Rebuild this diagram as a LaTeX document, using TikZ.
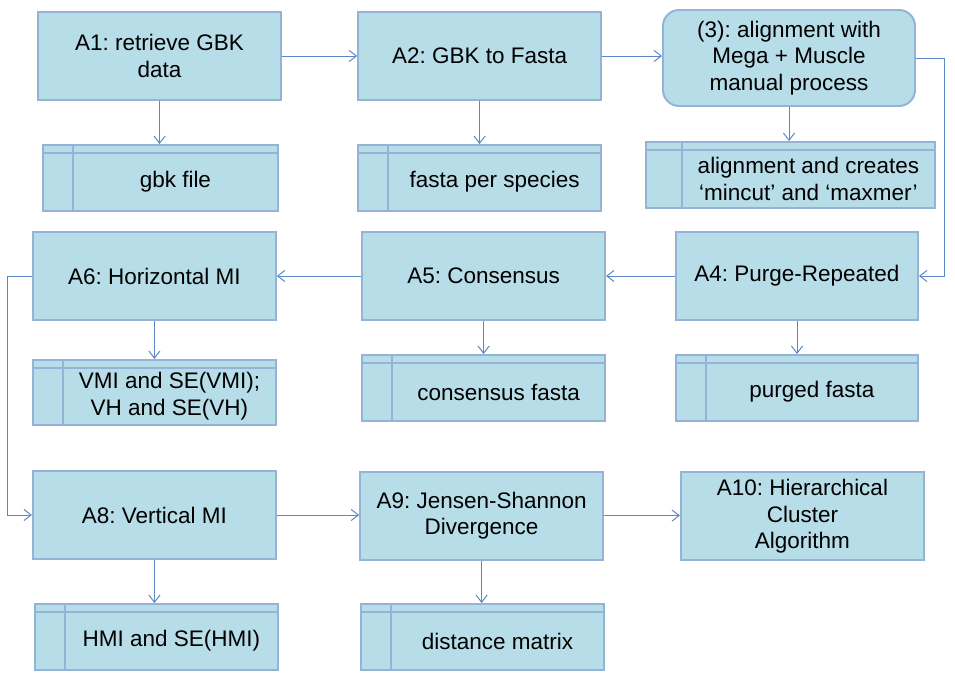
\documentclass[tikz,border=0pt]{standalone}
\usepackage{fontspec}
\setmainfont{Liberation Sans}
\frenchspacing
\usetikzlibrary{
    arrows.meta,
    positioning
}
\definecolor{boxfill}{HTML}{B7DDE8}
\definecolor{boxline}{HTML}{95B3D7}
\definecolor{arrowline}{HTML}{5B87C5}
\tikzset{
    % Process step style
    process/.style={
        rectangle,
        minimum width=6.075cm,
        minimum height=2.2cm,
        align=center,
        inner sep=2pt,
        font=\fontsize{16}{19}\selectfont,
        draw=boxline,
        fill=boxfill,
        line width=1.4pt
    },
    % Data store style (argument: offset of the left divider)
    datastore/.style={
        rectangle,
        minimum width=6.075cm,
        minimum height=1.65cm,
        draw=boxline,
        fill=boxfill,
        line width=1.4pt,
        path picture={
            \draw[boxline, line width=1.4pt] ([yshift=-0.2cm]path picture bounding box.north west) -- ([yshift=-0.2cm]path picture bounding box.north east);
            \draw[boxline, line width=1.4pt] ([xshift=#1]path picture bounding box.north west) -- ([xshift=#1]path picture bounding box.south west);
        }
    },
    datastore/.default=0.75cm,
    % Text inside a data store
    datatext/.style={
        font=\fontsize{16}{19}\selectfont,
        align=center,
        inner sep=1pt,
        xshift=#1,
        yshift=-0.1cm
    },
    datatext/.default=0.375cm,
    % Arrow style
    flow/.style={
        -{Straight Barb[length=1.8mm, width=2.8mm]},
        line width=0.7pt,
        draw=arrowline
    }
}

\begin{document}
\begin{tikzpicture}
        \useasboundingbox (0,0) rectangle (23.875,17);

        % First row
        \node[process] (a1) at (3.99, 15.6) {A1: retrieve GBK\\data};
        \node[process] (a2) at (11.99, 15.6) {A2: GBK to Fasta};
        \node[process, rounded corners=0.4cm, minimum width=6.3cm, minimum height=2.4cm] (a3) at (19.725, 15.55) {(3): alignment with\\Mega + Muscle\\manual process};

        \node[datastore, minimum width=5.875cm, label={[datatext]center:gbk file}] (gbk) at (4.01, 12.55) {};
        \node[datastore, label={[datatext]center:fasta per species}] (fasta) at (11.99, 12.55) {};
        \node[datastore=0.9cm, minimum width=7.225cm, label={[datatext=0.45cm]center:alignment and creates\\‘mincut’ and ‘maxmer’}] (aln) at (19.76, 12.625) {};

        % Second row
        \node[process] (a6) at (3.86, 10.1) {A6: Horizontal MI};
        \node[process] (a5) at (12.09, 10.1) {A5: Consensus};
        \node[process, minimum width=6.05cm] (a4) at (19.925, 10.1) {A4: Purge-Repeated};

        \node[datastore, minimum height=1.625cm, label={[datatext]center:VMI and SE(VMI);\\VH and SE(VH)}] (vmi) at (3.86, 7.19) {};
        \node[datastore, label={[datatext]center:consensus fasta}] (cons) at (12.09, 7.3) {};
        \node[datastore, minimum width=6.05cm, label={[datatext]center:purged fasta}] (purged) at (19.925, 7.3) {};

        % Third row
        \node[process] (a8) at (3.86, 4.125) {A8: Vertical MI};
        \node[process] (a9) at (12.04, 4.11) {A9: Jensen-Shannon\\Divergence};
        \node[process] (a10) at (20.06, 4.09) {A10: Hierarchical\\Cluster\\Algorithm};

        \node[datastore, label={[datatext]center:HMI and SE(HMI)}] (hmi) at (3.91, 1.075) {};
        \node[datastore, label={[datatext]center:distance matrix}] (dist) at (12.06, 1.075) {};

        % Process flow
        \draw[flow] (a1) -- (a2);
        \draw[flow] (a2.east) -- (a2.east -| a3.west);
        \draw[flow] (a3.east) -- ++(0.7,0) |- (a4.east);
        \draw[flow] (a4) -- (a5);
        \draw[flow] (a5) -- (a6);
        \draw[flow] (a6.west) -- ++(-0.62,0) |- (a8.west);
        \draw[flow] (a8.east) -- (a8.east -| a9.west);
        \draw[flow] (a9.east) -- (a9.east -| a10.west);

        % Outputs
        \draw[flow] (a1.south) -- (a1.south |- gbk.north);
        \draw[flow] (a2.south) -- (a2.south |- fasta.north);
        \draw[flow] (a3.south) -- (a3.south |- aln.north);
        \draw[flow] (a6.south) -- (a6.south |- vmi.north);
        \draw[flow] (a5.south) -- (a5.south |- cons.north);
        \draw[flow] (a4.south) -- (a4.south |- purged.north);
        \draw[flow] (a8.south) -- (a8.south |- hmi.north);
        \draw[flow] (a9.south) -- (a9.south |- dist.north);

    \end{tikzpicture}
\end{document}
